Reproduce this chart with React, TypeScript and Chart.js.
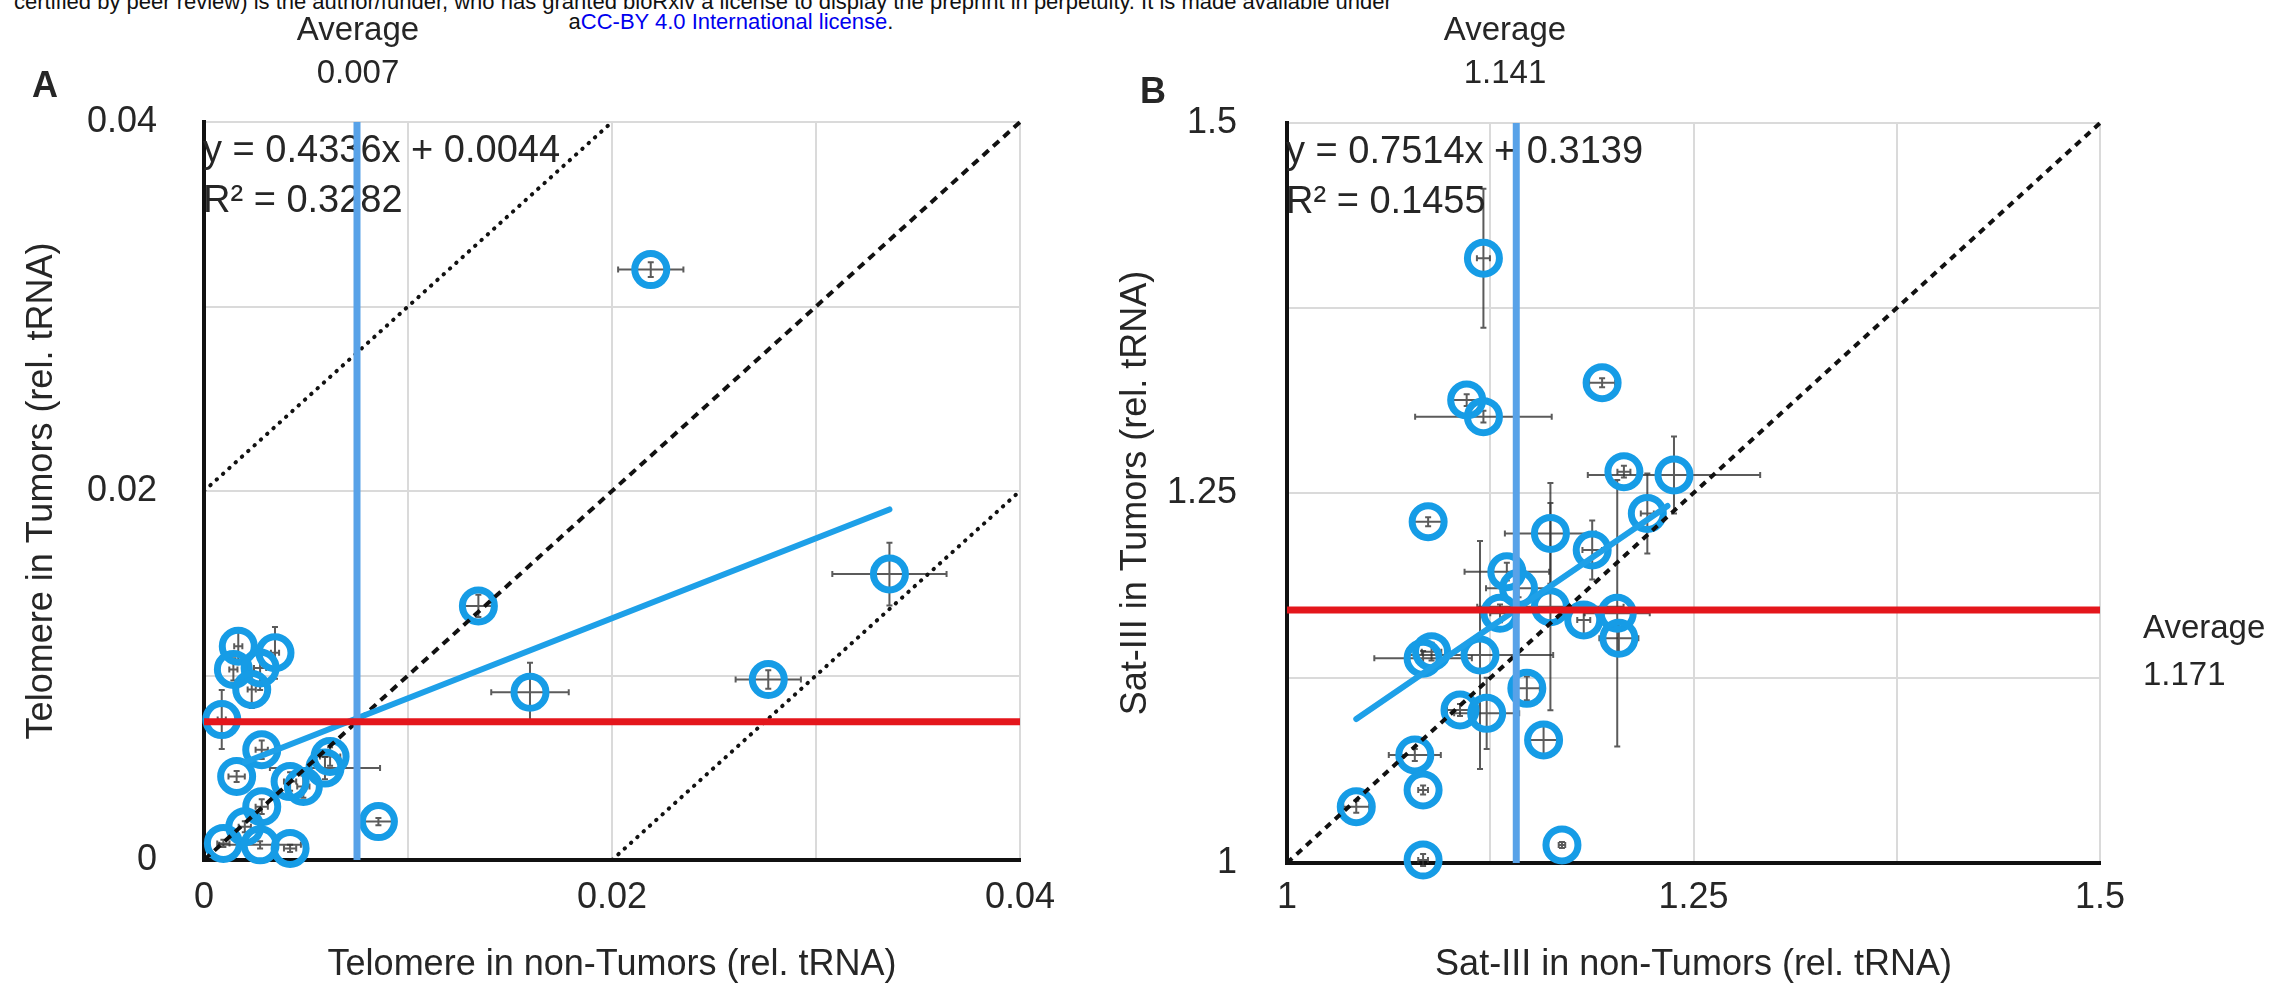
import React, { useEffect, useRef } from "react";
import { Chart, registerables } from "chart.js";

Chart.register(...registerables);

const FONT = '"Liberation Sans", Arial, Helvetica, sans-serif';
const NARROW = '"Liberation Sans Narrow", "Arial Narrow", "Liberation Sans", Arial, sans-serif';
const TEXT = "#262626";
const RING = "rgb(22,156,230)";
const FIT = "rgb(30,160,232)";
const AVG_BLUE = "rgb(88,162,232)";
const AVG_RED = "rgb(228,22,28)";

// ---------- Panel A: Telomere ----------
const telNonTumor = [0.00168, 0.00348, 0.00144, 0.00275, 0.00234, 0.00087, 0.00283, 0.0016, 0.00422, 0.00487, 0.00593, 0.00618, 0.00283, 0.002, 0.00095, 0.00275, 0.00422, 0.00855, 0.01345, 0.01598, 0.0219, 0.02766, 0.0336];
const telTumor = [0.01159, 0.01123, 0.01033, 0.01041, 0.00924, 0.00761, 0.00598, 0.00453, 0.00425, 0.00398, 0.00498, 0.00561, 0.00289, 0.0018, 0.0009, 0.00082, 0.00063, 0.00208, 0.01377, 0.00909, 0.032, 0.00978, 0.0155];
const telNonTumorErr = [0.0002, 0.0002, 0.0002, 0.0003, 0.0002, 0.0002, 0.0003, 0.0004, 0.0003, 0.0003, 0.0027, 0.0005, 0.0003, 0.0003, 0.0003, 0.002, 0.0003, 0.0008, 0.0007, 0.0019, 0.0016, 0.0016, 0.0028];
const telTumorErr = [0.0009, 0.0014, 0.0006, 0.0012, 0.001, 0.0016, 0.0005, 0.0003, 0.0005, 0.0006, 0.0006, 0.0005, 0.0004, 0.0003, 0.0002, 0.0002, 0.0002, 0.0002, 0.0006, 0.0016, 0.0004, 0.0005, 0.0017];
const telFitX = [0.002, 0.0336];
const telFitY = [0.0053, 0.019];
const telAvgNonTumor = 0.0075;
const telAvgTumor = 0.0075;
const telAvgLabel = "0.007";
const telUpperX = [0, 0.02];
const telUpperY = [0.02, 0.04];
const telLowerX = [0.02, 0.04];
const telLowerY = [0, 0.02];
const telRange = [0, 0.04];
const telStep = 0.01;
const telTickValues = [0, 0.02, 0.04];
const telTickLabels = ["0", "0.02", "0.04"];
const telEquation = ["y = 0.4336x + 0.0044", "R\u00B2 = 0.3282"];

// ---------- Panel B: Sat-III ----------
const satNonTumor = [1.1208, 1.1938, 1.1105, 1.1208, 1.0868, 1.2072, 1.238, 1.2216, 1.162, 1.1877, 1.1352, 1.1424, 1.131, 1.162, 1.1825, 1.2031, 1.2041, 1.0889, 1.0837, 1.1187, 1.1475, 1.1064, 1.1228, 1.1578, 1.0786, 1.0837, 1.0426, 1.0837, 1.1691];
const satTumor = [1.4086, 1.3245, 1.3128, 1.3016, 1.2306, 1.2644, 1.2622, 1.2362, 1.2227, 1.2115, 1.1968, 1.1856, 1.1687, 1.1732, 1.1642, 1.1687, 1.1518, 1.1428, 1.1383, 1.1405, 1.118, 1.1034, 1.1011, 1.0831, 1.073, 1.0493, 1.038, 1.002, 1.0122];
const satNonTumorErr = [0.004, 0.008, 0.01, 0.042, 0.01, 0.004, 0.053, 0.004, 0.028, 0.006, 0.026, 0.02, 0.006, 0.045, 0.004, 0.02, 0.012, 0.006, 0.03, 0.045, 0.008, 0.008, 0.02, 0.01, 0.016, 0.003, 0.008, 0.003, 0.002];
const satTumorErr = [0.047, 0.003, 0.004, 0.004, 0.003, 0.004, 0.026, 0.027, 0.034, 0.02, 0.006, 0.006, 0.006, 0.07, 0.01, 0.09, 0.01, 0.006, 0.005, 0.077, 0.008, 0.004, 0.024, 0.01, 0.004, 0.003, 0.004, 0.004, 0.002];
const satFitX = [1.0426, 1.234];
const satFitY = [1.0973, 1.2412];
const satAvgNonTumor = 1.141;
const satAvgTumor = 1.171;
const satAvgXLabel = "1.141";
const satAvgYLabel = "1.171";
const satRange = [1, 1.5];
const satStep = 0.125;
const satTickValues = [1, 1.25, 1.5];
const satTickLabels = ["1", "1.25", "1.5"];
const satEquation = ["y = 0.7514x + 0.3139", "R\u00B2 = 0.1455"];

const errorBarPlugin = {
  id: "errorBars",
  beforeDatasetsDraw(chart: any) {
    const o = chart.options.plugins.errorBars;
    if (!o) return;
    const { ctx } = chart;
    const xs = chart.scales.x;
    const ys = chart.scales.y;
    ctx.save();
    ctx.strokeStyle = "rgba(50,50,50,0.8)";
    ctx.lineWidth = 2;
    for (let i = 0; i < o.x.length; i++) {
      const px = xs.getPixelForValue(o.x[i]);
      const py = ys.getPixelForValue(o.y[i]);
      const x1 = xs.getPixelForValue(o.x[i] - o.xe[i]);
      const x2 = xs.getPixelForValue(o.x[i] + o.xe[i]);
      const y1 = ys.getPixelForValue(o.y[i] - o.ye[i]);
      const y2 = ys.getPixelForValue(o.y[i] + o.ye[i]);
      ctx.beginPath();
      ctx.moveTo(x1, py);
      ctx.lineTo(x2, py);
      ctx.moveTo(px, y1);
      ctx.lineTo(px, y2);
      ctx.moveTo(x1, py - 3);
      ctx.lineTo(x1, py + 3);
      ctx.moveTo(x2, py - 3);
      ctx.lineTo(x2, py + 3);
      ctx.moveTo(px - 3, y1);
      ctx.lineTo(px + 3, y1);
      ctx.moveTo(px - 3, y2);
      ctx.lineTo(px + 3, y2);
      ctx.stroke();
    }
    ctx.restore();
  },
};

const equationPlugin = {
  id: "equation",
  beforeDatasetsDraw(chart: any) {
    const o = chart.options.plugins.equation;
    if (!o) return;
    const { ctx, chartArea } = chart;
    ctx.save();
    ctx.font = `38px ${FONT}`;
    ctx.fillStyle = TEXT;
    ctx.textAlign = "left";
    ctx.textBaseline = "alphabetic";
    o.lines.forEach((t: string, i: number) => {
      ctx.fillText(t, chartArea.left - 1, chartArea.top + 40 + i * 50);
    });
    ctx.restore();
  },
};

type PanelSpec = {
  xs: number[];
  ys: number[];
  xe: number[];
  ye: number[];
  fitX: number[];
  fitY: number[];
  avgX: number;
  avgY: number;
  range: number[];
  step: number;
  tickValues: number[];
  tickLabels: string[];
  extraLines: { x: number[]; y: number[]; dash: number[]; width: number }[];
  equation: string[];
  xTitle: string;
  yTitle: string;
  yAxisWidth: number;
  xAxisHeight: number;
  padTop: number;
  padRight: number;
  yTickPad: number;
  yTitlePad: number;
  xTickPad: number;
};

function pts(xs: number[], ys: number[]) {
  return xs.map((x, i) => ({ x, y: ys[i] }));
}

function buildConfig(s: PanelSpec): any {
  const lo = s.range[0];
  const hi = s.range[1];
  const tickCb = (v: any) => {
    const idx = s.tickValues.findIndex((t) => Math.abs(t - Number(v)) < s.step * 1e-4);
    return idx >= 0 ? s.tickLabels[idx] : "";
  };
  const lineDs = (data: any[], color: string, width: number, dash: number[] = [], cap = "butt") => ({
    type: "scatter",
    data,
    showLine: true,
    borderColor: color,
    borderWidth: width,
    borderDash: dash,
    borderCapStyle: cap,
    pointRadius: 0,
    pointHoverRadius: 0,
    fill: false,
    clip: false,
  });
  const datasets: any[] = [
    lineDs(pts([lo, hi], [s.avgY, s.avgY]), AVG_RED, 7),
    lineDs(pts([s.avgX, s.avgX], [lo, hi]), AVG_BLUE, 7),
    lineDs(pts(s.fitX, s.fitY), FIT, 6, [], "round"),
    ...s.extraLines.map((l) => lineDs(pts(l.x, l.y), "#111", l.width, l.dash, l.dash[0] < 2 ? "round" : "butt")),
    {
      type: "scatter",
      data: pts(s.xs, s.ys),
      pointRadius: 16,
      pointHoverRadius: 16,
      pointBorderWidth: 7,
      pointBorderColor: RING,
      pointBackgroundColor: "rgba(0,0,0,0)",
      showLine: false,
      clip: false,
    },
  ];
  const tickFont = { size: 36, family: FONT };
  const xTitleFont = { size: 36, family: NARROW };
  return {
    type: "scatter",
    data: { datasets },
    plugins: [errorBarPlugin, equationPlugin],
    options: {
      responsive: false,
      animation: false,
      events: [],
      layout: { padding: { left: 0, top: s.padTop, right: s.padRight, bottom: 0 } },
      plugins: {
        legend: { display: false },
        tooltip: { enabled: false },
        errorBars: { x: s.xs, y: s.ys, xe: s.xe, ye: s.ye },
        equation: { lines: s.equation },
      },
      scales: {
        x: {
          type: "linear",
          min: lo,
          max: hi,
          afterFit: (sc: any) => {
            sc.height = s.xAxisHeight;
          },
          ticks: { stepSize: s.step, autoSkip: false, maxRotation: 0, padding: s.xTickPad, font: tickFont, color: TEXT, callback: tickCb },
          grid: { color: "#dadada", lineWidth: 2, drawTicks: false },
          border: { color: "#111", width: 4 },
          title: { display: true, text: s.xTitle, font: xTitleFont, color: TEXT, padding: { top: 0, bottom: 9 } },
        },
        y: {
          type: "linear",
          min: lo,
          max: hi,
          afterFit: (sc: any) => {
            sc.width = s.yAxisWidth;
          },
          ticks: { stepSize: s.step, autoSkip: false, padding: s.yTickPad, font: tickFont, color: TEXT, callback: tickCb },
          grid: { color: "#dadada", lineWidth: 2, drawTicks: false },
          border: { color: "#111", width: 4 },
          title: { display: true, text: s.yTitle, font: tickFont, color: TEXT, padding: { top: s.yTitlePad, bottom: 0 } },
        },
      },
    },
  };
}

const specA: PanelSpec = {
  xs: telNonTumor,
  ys: telTumor,
  xe: telNonTumorErr,
  ye: telTumorErr,
  fitX: telFitX,
  fitY: telFitY,
  avgX: telAvgNonTumor,
  avgY: telAvgTumor,
  range: telRange,
  step: telStep,
  tickValues: telTickValues,
  tickLabels: telTickLabels,
  extraLines: [
    { x: telRange, y: telRange, dash: [8, 6], width: 4 },
    { x: telUpperX, y: telUpperY, dash: [0.5, 8], width: 4 },
    { x: telLowerX, y: telLowerY, dash: [0.5, 8], width: 4 },
  ],
  equation: telEquation,
  xTitle: "Telomere in non-Tumors (rel. tRNA)",
  yTitle: "Telomere in Tumors (rel. tRNA)",
  yAxisWidth: 204,
  xAxisHeight: 136,
  padTop: 122,
  padRight: 60,
  yTickPad: 47,
  yTitlePad: 20,
  xTickPad: 16,
};

const specB: PanelSpec = {
  xs: satNonTumor,
  ys: satTumor,
  xe: satNonTumorErr,
  ye: satTumorErr,
  fitX: satFitX,
  fitY: satFitY,
  avgX: satAvgNonTumor,
  avgY: satAvgTumor,
  range: satRange,
  step: satStep,
  tickValues: satTickValues,
  tickLabels: satTickLabels,
  extraLines: [{ x: satRange, y: satRange, dash: [7, 6], width: 4 }],
  equation: satEquation,
  xTitle: "Sat-III in non-Tumors (rel. tRNA)",
  yTitle: "Sat-III in Tumors (rel. tRNA)",
  yAxisWidth: 207,
  xAxisHeight: 133,
  padTop: 123,
  padRight: 183,
  yTickPad: 50,
  yTitlePad: 34,
  xTickPad: 13,
};

const A_LEFT = 0;
const A_WIDTH = 1080;
const B_LEFT = 1080;
const B_WIDTH = 1203;
const H = 996;

function ChartCanvas({ spec, left, width }: { spec: PanelSpec; left: number; width: number }) {
  const ref = useRef<HTMLCanvasElement | null>(null);
  useEffect(() => {
    if (!ref.current) return;
    const chart = new Chart(ref.current, buildConfig(spec));
    return () => chart.destroy();
  }, [spec]);
  return (
    <canvas
      ref={ref}
      width={width}
      height={H}
      style={{ position: "absolute", left, top: 0, width, height: H }}
    />
  );
}

function Label({ text, cx, left, top, size, weight }: { text: string; cx?: number; left?: number; top: number; size: number; weight?: string }) {
  const style: any = {
    position: "absolute",
    top,
    fontFamily: FONT,
    fontSize: size,
    lineHeight: 1,
    color: TEXT,
    fontWeight: weight || "normal",
    whiteSpace: "nowrap",
  };
  if (cx !== undefined) {
    style.left = cx - 200;
    style.width = 400;
    style.textAlign = "center";
  } else {
    style.left = left;
  }
  return <div style={style}>{text}</div>;
}

export default function App() {
  return (
    <div style={{ position: "absolute", left: 0, top: 0, width: 2283, height: H, background: "#fff", overflow: "hidden" }}>
      <div style={{ position: "absolute", left: 14, top: -9, fontFamily: FONT, fontSize: 22, lineHeight: 1, color: "#111", whiteSpace: "nowrap" }}>
        certified by peer review) is the author/funder, who has granted bioRxiv a license to display the preprint in perpetuity. It is made available under
      </div>
      <div style={{ position: "absolute", left: 531, width: 400, textAlign: "center", top: 11, fontFamily: FONT, fontSize: 22, lineHeight: 1, color: "#111", whiteSpace: "nowrap" }}>
        a<span style={{ color: "#0000ee" }}>CC-BY 4.0 International license</span>.
      </div>
      <ChartCanvas spec={specA} left={A_LEFT} width={A_WIDTH} />
      <ChartCanvas spec={specB} left={B_LEFT} width={B_WIDTH} />
      <Label text="A" left={32} top={67} size={36} weight="bold" />
      <Label text="B" left={1140} top={73} size={36} weight="bold" />
      <Label text="Average" cx={358} top={12} size={33} />
      <Label text={telAvgLabel} cx={358} top={55} size={33} />
      <Label text="Average" cx={1505} top={12} size={33} />
      <Label text={satAvgXLabel} cx={1505} top={55} size={33} />
      <Label text="Average" left={2143} top={610} size={33} />
      <Label text={satAvgYLabel} left={2143} top={657} size={33} />
    </div>
  );
}
